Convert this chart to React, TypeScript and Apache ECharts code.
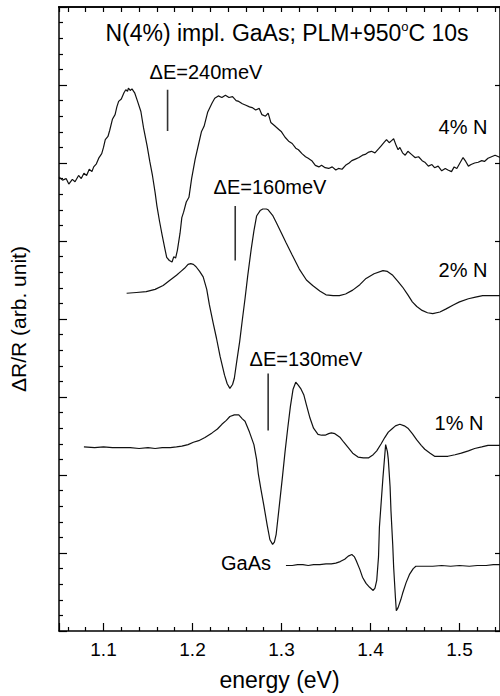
import React, { useEffect, useRef } from 'react';
import * as echarts from 'echarts';

// energy (eV), dR/R (arbitrary units, offset per trace)
const n4Data: number[][] = [
  [1.050,5.82],[1.054,5.78],[1.058,5.80],[1.061,5.73],[1.065,5.79],[1.068,5.76],[1.072,5.84],[1.075,5.80],[1.078,5.87],[1.081,5.84],
  [1.084,5.92],[1.087,5.89],[1.089,5.95],[1.092,5.99],[1.095,6.07],[1.098,6.12],[1.100,6.20],[1.102,6.30],[1.105,6.34],[1.107,6.42],
  [1.110,6.56],[1.113,6.62],[1.115,6.72],[1.117,6.79],[1.120,6.82],[1.123,6.90],[1.125,6.94],[1.127,6.92],[1.128,6.96],[1.130,6.93],
  [1.132,6.95],[1.135,6.90],[1.138,6.80],[1.142,6.66],[1.145,6.45],[1.149,6.22],[1.152,6.02],[1.155,5.84],[1.158,5.62],[1.160,5.45],
  [1.163,5.25],[1.166,5.07],[1.169,4.90],[1.171,4.79],[1.174,4.75],[1.177,4.73],[1.179,4.80],[1.181,4.78],[1.183,4.88],[1.186,5.10],
  [1.188,5.30],[1.190,5.37],[1.193,5.50],[1.196,5.56],[1.199,5.80],[1.203,6.05],[1.207,6.25],[1.210,6.40],[1.213,6.47],[1.217,6.65],
  [1.222,6.77],[1.225,6.83],[1.229,6.86],[1.233,6.84],[1.237,6.87],[1.241,6.84],[1.245,6.85],[1.249,6.80],[1.252,6.79],[1.256,6.76],
  [1.260,6.74],[1.264,6.72],[1.267,6.71],[1.271,6.68],[1.275,6.70],[1.278,6.62],[1.282,6.60],[1.285,6.64],[1.288,6.52],[1.292,6.48],
  [1.297,6.43],[1.300,6.40],[1.304,6.33],[1.308,6.28],[1.312,6.25],[1.316,6.19],[1.319,6.17],[1.323,6.12],[1.327,6.08],[1.330,6.06],
  [1.334,6.03],[1.338,5.97],[1.342,5.95],[1.345,5.97],[1.349,5.94],[1.353,5.93],[1.357,5.95],[1.361,5.91],[1.364,5.93],[1.368,5.92],
  [1.372,5.97],[1.376,6.00],[1.379,6.03],[1.383,6.05],[1.387,6.07],[1.391,6.10],[1.394,6.11],[1.398,6.14],[1.401,6.15],[1.405,6.13],
  [1.409,6.18],[1.412,6.22],[1.415,6.26],[1.418,6.30],[1.421,6.26],[1.424,6.29],[1.426,6.31],[1.429,6.22],[1.431,6.17],[1.433,6.20],
  [1.436,6.13],[1.439,6.10],[1.442,6.15],[1.446,6.11],[1.450,6.07],[1.454,6.08],[1.458,6.03],[1.461,6.01],[1.465,5.96],[1.469,5.98],
  [1.472,5.94],[1.476,5.96],[1.480,5.90],[1.484,5.93],[1.487,5.91],[1.491,5.89],[1.494,5.95],[1.497,5.93],[1.500,5.99],[1.504,6.07],
  [1.507,6.02],[1.510,5.96],[1.513,5.98],[1.517,6.00],[1.521,6.01],[1.525,6.03],[1.528,6.02],[1.532,6.06],[1.536,6.08],[1.540,6.10],[1.546,6.07]
];

const n2Data: number[][] = [
  [1.126,4.33],[1.137,4.34],[1.148,4.35],[1.158,4.38],[1.167,4.43],[1.175,4.50],[1.182,4.56],[1.187,4.61],[1.191,4.65],[1.195,4.70],
  [1.198,4.71],[1.201,4.70],[1.204,4.67],[1.208,4.61],[1.212,4.54],[1.216,4.38],[1.219,4.18],[1.223,3.96],[1.227,3.75],[1.231,3.52],
  [1.236,3.28],[1.239,3.17],[1.242,3.11],[1.245,3.16],[1.247,3.24],[1.250,3.48],[1.253,3.71],[1.256,3.99],[1.259,4.26],[1.262,4.55],
  [1.266,4.90],[1.269,5.13],[1.272,5.32],[1.276,5.39],[1.279,5.41],[1.283,5.41],[1.285,5.40],[1.290,5.33],[1.294,5.24],[1.300,5.10],
  [1.305,4.98],[1.312,4.82],[1.320,4.64],[1.328,4.50],[1.335,4.43],[1.343,4.36],[1.350,4.31],[1.358,4.30],[1.365,4.30],[1.372,4.32],
  [1.380,4.37],[1.388,4.44],[1.395,4.52],[1.404,4.58],[1.414,4.62],[1.419,4.61],[1.425,4.56],[1.431,4.48],[1.436,4.41],[1.442,4.31],
  [1.447,4.22],[1.452,4.16],[1.458,4.11],[1.464,4.08],[1.470,4.07],[1.478,4.09],[1.485,4.13],[1.493,4.18],[1.500,4.22],[1.510,4.26],
  [1.518,4.28],[1.526,4.30],[1.533,4.30],[1.540,4.30],[1.546,4.30]
];

const n1Data: number[][] = [
  [1.078,2.36],[1.090,2.35],[1.100,2.36],[1.110,2.35],[1.120,2.35],[1.130,2.35],[1.140,2.34],[1.150,2.35],[1.158,2.34],[1.166,2.35],
  [1.175,2.35],[1.182,2.36],[1.188,2.37],[1.195,2.39],[1.201,2.42],[1.207,2.44],[1.214,2.48],[1.222,2.54],[1.228,2.59],[1.233,2.65],
  [1.238,2.70],[1.242,2.75],[1.247,2.77],[1.252,2.77],[1.256,2.72],[1.259,2.69],[1.264,2.55],[1.269,2.39],[1.272,2.20],[1.274,2.01],
  [1.277,1.81],[1.280,1.62],[1.284,1.35],[1.287,1.17],[1.290,1.11],[1.292,1.14],[1.294,1.24],[1.297,1.55],[1.301,1.97],[1.304,2.30],
  [1.307,2.60],[1.310,2.88],[1.313,3.10],[1.316,3.19],[1.319,3.15],[1.322,3.10],[1.325,3.03],[1.328,2.90],[1.332,2.73],[1.336,2.60],
  [1.341,2.52],[1.345,2.51],[1.349,2.51],[1.353,2.53],[1.356,2.54],[1.360,2.53],[1.366,2.48],[1.370,2.42],[1.375,2.35],[1.380,2.28],
  [1.386,2.23],[1.392,2.22],[1.398,2.22],[1.403,2.26],[1.407,2.31],[1.412,2.40],[1.416,2.48],[1.420,2.55],[1.424,2.59],[1.428,2.63],
  [1.433,2.65],[1.438,2.63],[1.442,2.60],[1.447,2.53],[1.452,2.45],[1.457,2.38],[1.461,2.33],[1.467,2.28],[1.472,2.24],[1.480,2.24],
  [1.487,2.24],[1.495,2.26],[1.502,2.28],[1.510,2.31],[1.517,2.34],[1.525,2.36],[1.532,2.38],[1.538,2.38],[1.546,2.38]
];

const gaasData: number[][] = [
  [1.305,0.84],[1.312,0.84],[1.318,0.85],[1.324,0.85],[1.330,0.84],[1.336,0.85],[1.343,0.85],[1.350,0.86],[1.356,0.86],[1.361,0.87],
  [1.366,0.89],[1.371,0.92],[1.375,0.96],[1.379,0.98],[1.382,0.95],[1.384,0.90],[1.388,0.79],[1.391,0.69],[1.395,0.61],[1.399,0.56],
  [1.403,0.52],[1.405,0.55],[1.407,0.65],[1.409,0.95],[1.410,1.33],[1.412,1.65],[1.414,1.97],[1.416,2.25],[1.417,2.39],[1.419,2.30],
  [1.420,2.20],[1.422,1.85],[1.423,1.54],[1.425,1.10],[1.426,0.82],[1.428,0.43],[1.429,0.26],[1.431,0.30],[1.434,0.40],[1.436,0.48],
  [1.440,0.62],[1.444,0.73],[1.448,0.80],[1.451,0.83],[1.460,0.83],[1.470,0.83],[1.480,0.84],[1.490,0.83],[1.500,0.84],[1.511,0.83],
  [1.520,0.84],[1.530,0.84],[1.538,0.85],[1.546,0.85]
];

// ΔE marker bars: energy, lower and upper value
const markerEnergies = [1.172, 1.248, 1.285];
const markerLows = [6.41, 4.75, 2.57];
const markerHighs = [6.94, 5.45, 3.30];
const markerLabels = ['ΔE=240meV', 'ΔE=160meV', 'ΔE=130meV'];

const traceLabels = ['4% N', '2% N', '1% N', 'GaAs'];
const titleText = 'N(4%) impl. GaAs; PLM+950';

export default function App() {
  const ref = useRef<HTMLDivElement>(null);
  useEffect(() => {
    const chart = echarts.init(ref.current!, null, { renderer: 'svg' });
    const font = '"Liberation Sans", Arial, sans-serif';
    const lineSeries = (name: string, data: number[][], color = '#111', width = 1.2) => ({
      type: 'line', name, data, showSymbol: false, symbol: 'none', silent: true,
      lineStyle: { color, width }, xAxisIndex: 0, yAxisIndex: 0,
    });
    const markerSeries = markerEnergies.map((e, i) =>
      lineSeries('m' + i, [[e, markerLows[i]], [e, markerHighs[i]]], '#333', 1.6));

    const txt = (text: string, x: number, y: number, size: number) => ({
      type: 'text', x, y, silent: true,
      style: { text, fill: '#000', fontSize: size, fontFamily: font,
        align: 'center', verticalAlign: 'middle', textAlign: 'center', textVerticalAlign: 'middle' },
    });

    const tickStyle = { color: '#000', width: 1.2 };

    const option: any = {
      animation: false,
      grid: { left: 59, right: -1, top: 7, bottom: 62 },
      xAxis: [
        {
          type: 'value', gridIndex: 0, position: 'bottom',
          min: 1.05, max: 1.5455, splitNumber: 5, minInterval: 0.1, maxInterval: 0.1,
          splitLine: { show: false },
          axisLine: { show: true, onZero: false, lineStyle: { color: '#000', width: 1.5 } },
          name: 'energy (eV)', nameLocation: 'middle', nameGap: 37,
          nameTextStyle: { fontSize: 23, fontFamily: font, color: '#000' },
          axisTick: { show: true, inside: true, length: 8, lineStyle: tickStyle },
          minorTick: { show: true, splitNumber: 5, length: 4, lineStyle: tickStyle },
          axisLabel: { show: true, showMinLabel: false, showMaxLabel: false, margin: 9, color: '#000', fontSize: 19, fontFamily: font,
            formatter: (v: number) => v.toFixed(1) },
        },
        {
          type: 'value', gridIndex: 0, position: 'top', z: 10,
          min: 1.05, max: 1.5455, splitNumber: 5, minInterval: 0.1, maxInterval: 0.1,
          splitLine: { show: false },
          axisLine: { show: true, onZero: false, lineStyle: { color: '#000', width: 1.5 } },
          axisTick: { show: true, inside: true, length: 5, lineStyle: tickStyle },
          minorTick: { show: true, splitNumber: 5, length: 5, lineStyle: tickStyle },
          axisLabel: { show: false },
        },
      ],
      yAxis: [
        {
          type: 'value', gridIndex: 0, position: 'left', min: 0, max: 8, interval: 1,
          splitLine: { show: false }, axisLabel: { show: false },
          axisLine: { show: true, onZero: false, lineStyle: { color: '#000', width: 1.5 } },
          name: 'ΔR/R (arb. unit)', nameLocation: 'middle', nameGap: 30,
          nameTextStyle: { fontSize: 21, fontFamily: font, color: '#000' },
          axisTick: { show: true, inside: true, length: 8, lineStyle: tickStyle },
          minorTick: { show: true, splitNumber: 5, length: 4, lineStyle: tickStyle },
        },
        {
          type: 'value', gridIndex: 0, position: 'right', min: 0, max: 8, interval: 1,
          splitLine: { show: false }, axisLabel: { show: false },
          axisLine: { show: true, onZero: false, lineStyle: { color: '#000', width: 1.5 } },
          axisTick: { show: true, inside: true, length: 5, lineStyle: tickStyle },
        },
      ],
      series: [
        lineSeries(traceLabels[0], n4Data),
        lineSeries(traceLabels[1], n2Data),
        lineSeries(traceLabels[2], n1Data),
        lineSeries(traceLabels[3], gaasData),
        ...markerSeries,
        // the GaAs trace again on the top/right frame axes, drawn invisibly, so those axes are drawn
        { type: 'line', name: 'frame', data: gaasData, xAxisIndex: 1, yAxisIndex: 1, silent: true,
          showSymbol: false, symbol: 'none', lineStyle: { opacity: 0 } },
      ],
      graphic: [
        // top edge of the plot frame
        { type: 'line', silent: true, z: 20, shape: { x1: 58, y1: 7, x2: 500, y2: 7 },
          style: { stroke: '#000', lineWidth: 1.5 } },
        {
          type: 'text', x: 287, y: 33, silent: true,
          style: {
            text: '{a|' + titleText + '}{s|o}{a|C 10s}',
            align: 'center', verticalAlign: 'middle', textAlign: 'center', textVerticalAlign: 'middle',
            rich: {
              a: { fontSize: 23, fontFamily: font, fill: '#000', color: '#000' },
              s: { fontSize: 13, fontFamily: font, fill: '#000', color: '#000', verticalAlign: 'top', lineHeight: 26 },
            },
          },
        },
        txt(markerLabels[0], 206, 72, 20),
        txt(markerLabels[1], 270, 187, 20),
        txt(markerLabels[2], 306, 359, 20),
        txt(traceLabels[0], 463, 127, 20),
        txt(traceLabels[1], 463, 270, 20),
        txt(traceLabels[2], 459, 423, 20),
        txt(traceLabels[3], 246, 563, 20),
      ],
    };
    chart.setOption(option);
    return () => chart.dispose();
  }, []);
  return <div ref={ref} style={{ position: 'fixed', left: 0, top: 0, width: 500, height: 696, background: '#fff' }} />;
}
